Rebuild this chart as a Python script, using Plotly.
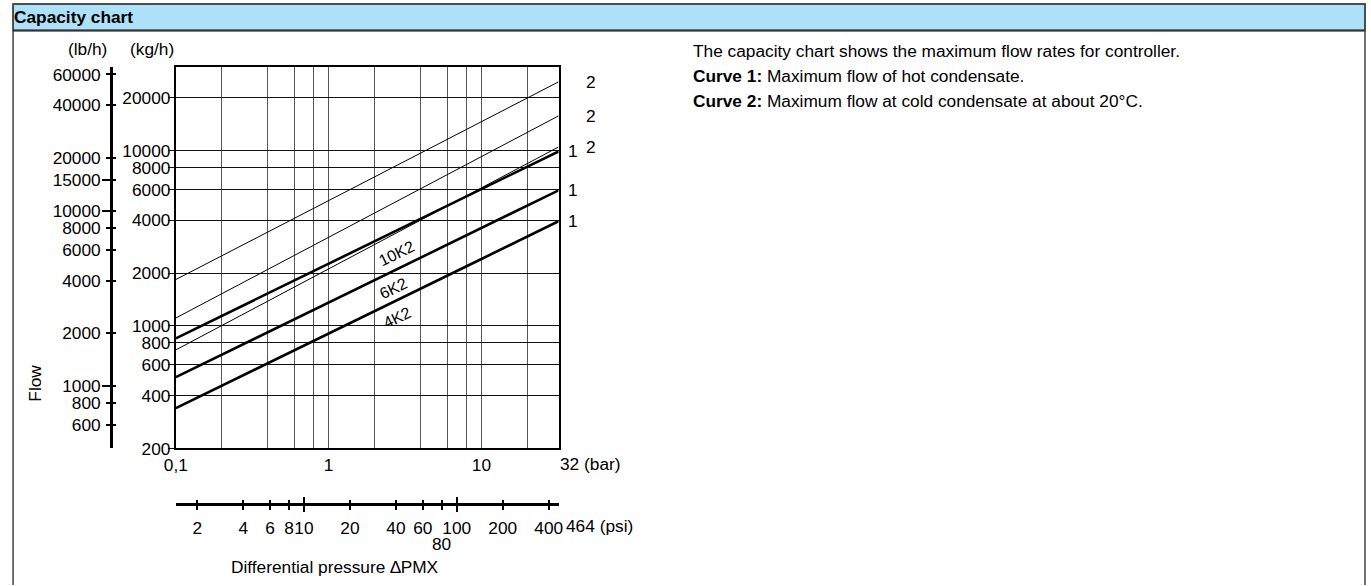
import math
import plotly.graph_objects as go

# ---------------- data ----------------
bar_x = [0.1, 1, 10, 32]                      # differential pressure, bar
curve2_a = [1840, 5200, 14650, 24700]         # thin (cold condensate) top
curve2_b = [1110, 3200, 9240, 15800]          # thin middle
curve2_c = [730, 2120, 6120, 10500]           # thin lowest
curve1_10k2 = [850, 2270, 6030, 9900]         # thick 10K2
curve1_6k2 = [510, 1360, 3620, 5940]          # thick 6K2
curve1_4k2 = [340, 910, 2410, 3960]           # thick 4K2

bar_ticks = [0.1, 0.2, 0.4, 0.6, 0.8, 1, 2, 4, 6, 8, 10, 20]
bar_ticktext = ["0,1", "", "", "", "", "1", "", "", "", "", "10", ""]
kg_ticks = [200, 400, 600, 800, 1000, 2000, 4000, 6000, 8000, 10000, 20000]
lb_ticks = [600, 800, 1000, 2000, 4000, 6000, 8000, 10000, 15000, 20000, 40000, 60000]
lb_long_ticks = [1000, 10000, 15000]
psi_ticks = [2, 4, 6, 8, 10, 20, 40, 60, 80, 100, 200, 400]
psi_ticktext = ["2", "4", "6", "8", "10", "20", "40", "60", "", "100", "200", "400"]
psi_long_ticks = [10, 100]

KG_TO_LB = 2.20462
BAR_TO_PSI = 14.5038
BAR_MIN, BAR_MAX = 0.1, 32
KG_MIN, KG_MAX = 200, 30100

W, H = 1371, 586
FONT = "Liberation Sans, Arial, sans-serif"
FS = 17.3


# page-pixel -> paper fraction (calibrated to how the page is photographed)
def px(p):
    return (p - 12) / 1356


def py(p):
    return 1 - (p - 1) / 576


xdom = [px(176), px(559)]
ydom = [py(449), py(66)]
xr = [math.log10(BAR_MIN), math.log10(BAR_MAX)]
yr = [math.log10(KG_MIN), math.log10(KG_MAX)]
yr_lb = [math.log10(KG_MIN * KG_TO_LB), math.log10(KG_MAX * KG_TO_LB)]
xr_psi = [math.log10(BAR_MIN * BAR_TO_PSI), math.log10(BAR_MAX * BAR_TO_PSI)]

fig = go.Figure()

thin = dict(color="black", width=1)
thick = dict(color="black", width=2.6)
for ys, ln in [(curve2_a, thin), (curve2_b, thin), (curve2_c, thin),
               (curve1_10k2, thick), (curve1_6k2, thick), (curve1_4k2, thick)]:
    fig.add_trace(go.Scatter(x=bar_x, y=ys, mode="lines", line=ln,
                             showlegend=False, hoverinfo="skip", cliponaxis=True))

# dummy traces to register overlay axes
for xa, ya in [("x", "y2"), ("x", "y3"), ("x", "y4"),
               ("x2", "y"), ("x3", "y"), ("x4", "y"), ("x5", "y")]:
    fig.add_trace(go.Scatter(x=[None], y=[None], xaxis=xa, yaxis=ya,
                             showlegend=False, hoverinfo="skip"))

tickfont = dict(family=FONT, size=FS, color="black")

lay = dict(
    width=W, height=H, margin=dict(l=0, r=0, t=0, b=0),
    paper_bgcolor="white", plot_bgcolor="white",
    font=dict(family=FONT, size=FS, color="black"),
    xaxis=dict(domain=xdom, type="log", range=xr, tickmode="array",
               tickvals=bar_ticks, ticktext=bar_ticktext, tickangle=0,
               showgrid=True, gridcolor="#555", gridwidth=1,
               showline=True, linecolor="black", linewidth=2, mirror=True,
               ticks="", tickfont=tickfont, zeroline=False,
               ticklabelstandoff=0),
    yaxis=dict(domain=ydom, type="log", range=yr, tickmode="array",
               tickvals=kg_ticks, ticktext=[str(v) for v in kg_ticks],
               showgrid=True, gridcolor="#111", gridwidth=1,
               showline=True, linecolor="black", linewidth=2, mirror=True,
               ticks="outside", ticklen=6, tickcolor="#111", tickwidth=1,
               tickfont=tickfont, zeroline=False, ticklabelstandoff=-6),
    # lb/h axis
    yaxis2=dict(overlaying="y", anchor="free", position=px(111), side="left",
                type="log", range=yr_lb, tickmode="array", tickvals=lb_ticks,
                ticktext=[str(v) for v in lb_ticks], showgrid=False,
                showline=True, linecolor="black", linewidth=2.5,
                ticks="outside", ticklen=4, tickwidth=2, tickcolor="black",
                tickfont=tickfont, zeroline=False, ticklabelstandoff=2),
    yaxis3=dict(overlaying="y", anchor="free", position=px(111), side="left",
                type="log", range=yr_lb, tickmode="array", tickvals=lb_ticks,
                showticklabels=False, showgrid=False, showline=False,
                ticks="inside", ticklen=4, tickwidth=2, tickcolor="black",
                zeroline=False),
    yaxis4=dict(overlaying="y", anchor="free", position=px(111), side="left",
                type="log", range=yr_lb, tickmode="array", tickvals=lb_long_ticks,
                showticklabels=False, showgrid=False, showline=False,
                ticks="outside", ticklen=9, tickwidth=2, tickcolor="black",
                zeroline=False),
    # psi axis
    xaxis2=dict(overlaying="x", anchor="free", position=py(505), side="bottom",
                type="log", range=xr_psi, tickmode="array", tickvals=psi_ticks,
                ticktext=psi_ticktext, tickangle=0, showgrid=False,
                showline=True, linecolor="black", linewidth=2.5,
                ticks="outside", ticklen=4, tickwidth=2, tickcolor="black",
                tickfont=tickfont, zeroline=False, ticklabelstandoff=3),
    xaxis3=dict(overlaying="x", anchor="free", position=py(505), side="bottom",
                type="log", range=xr_psi, tickmode="array", tickvals=psi_ticks,
                showticklabels=False, showgrid=False, showline=False,
                ticks="inside", ticklen=4, tickwidth=2, tickcolor="black",
                zeroline=False),
    xaxis4=dict(overlaying="x", anchor="free", position=py(505), side="bottom",
                type="log", range=xr_psi, tickmode="array", tickvals=psi_long_ticks,
                showticklabels=False, showgrid=False, showline=False,
                ticks="outside", ticklen=7, tickwidth=2, tickcolor="black",
                zeroline=False),
    xaxis5=dict(overlaying="x", anchor="free", position=py(505), side="bottom",
                type="log", range=xr_psi, tickmode="array", tickvals=psi_long_ticks,
                showticklabels=False, showgrid=False, showline=False,
                ticks="inside", ticklen=7, tickwidth=2, tickcolor="black",
                zeroline=False),
)
fig.update_layout(**lay)

ann = []


def text(x, y, s, xanchor="center", yanchor="middle", size=FS, angle=0,
         xref="paper", yref="paper"):
    ann.append(dict(x=x, y=y, xref=xref, yref=yref, text=s, showarrow=False,
                    xanchor=xanchor, yanchor=yanchor, textangle=angle,
                    borderpad=0, borderwidth=0,
                    font=dict(family=FONT, size=size, color="black")))


# header
text(px(14), py(16), "<b>Capacity chart</b>", xanchor="left")
# unit labels
text(px(88), py(48), "(lb/h)")
text(px(152), py(48), "(kg/h)")
text(px(35), py(383), "Flow", angle=-90)
text(px(560), py(465), "32 (bar)", xanchor="left")
text(px(566), py(527), "464 (psi)", xanchor="left")
text(math.log10(80), py(545), "80", xref="x2")
text(px(335), py(568), "Differential pressure \u2206PMX")

# curve end labels
for ys in (curve1_10k2, curve1_6k2, curve1_4k2):
    text(px(573), math.log10(ys[-1]), "1", yref="y")
for ys in (curve2_a, curve2_b, curve2_c):
    text(px(591), math.log10(ys[-1]), "2", yref="y")

# size labels along the curves
text(math.log10(2.78), math.log10(2590), "10K2", size=16, angle=-26, xref="x", yref="y")
text(math.log10(2.64), math.log10(1640), "6K2", size=16, angle=-26, xref="x", yref="y")
text(math.log10(2.82), math.log10(1110), "4K2", size=16, angle=-26, xref="x", yref="y")

# description
text(px(694), py(50), "The capacity chart shows the maximum flow rates for controller.", xanchor="left")
text(px(694), py(75), "<b>Curve 1:</b> Maximum flow of hot condensate.", xanchor="left")
text(px(694), py(100), "<b>Curve 2:</b> Maximum flow at cold condensate at about 20\u00b0C.", xanchor="left")

fig.update_layout(annotations=ann)

# panel frame (open at the bottom) and header band
fl, fr, ft, fb = max(px(3.5), 0.0008), px(1366), py(3), py(586)
shapes = [
    dict(type="rect", xref="paper", yref="paper", x0=fl, x1=fr, y0=py(29.5), y1=ft,
         line=dict(color="#444", width=1.5), fillcolor="#ADE1FA", layer="below"),
    dict(type="path", xref="paper", yref="paper",
         path=f"M {fl},{fb} L {fl},{ft} L {fr},{ft} L {fr},{fb}",
         line=dict(color="#444", width=1.5), layer="above"),
    dict(type="line", xref="paper", yref="paper", x0=fl, x1=fr, y0=py(29.5), y1=py(29.5),
         line=dict(color="#333", width=2), layer="above"),
]
fig.update_layout(shapes=shapes)

fig.write_html(
    "out.html",
    config={"displayModeBar": False},
    post_script="document.body.style.margin='0';document.body.style.overflow='hidden';",
)
